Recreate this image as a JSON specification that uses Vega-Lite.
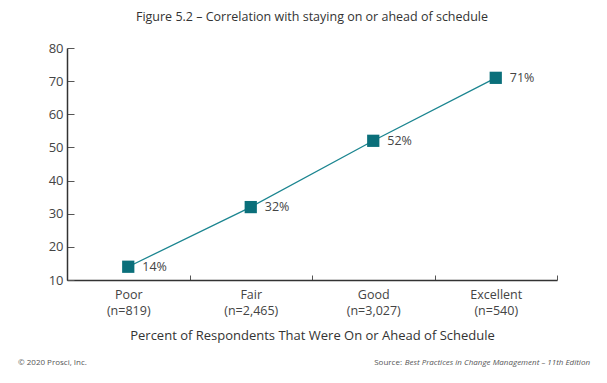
{
  "$schema": "https://vega.github.io/schema/vega-lite/v6.json",
  "width": 490,
  "height": 232,
  "autosize": {"type": "none"},
  "padding": {"left": 67, "top": 48, "right": 50, "bottom": 103},
  "background": "white",
  "config": {
    "view": {"stroke": null},
    "font": "Open Sans",
    "axis": {"grid": false, "domainColor": "#333", "tickColor": "#555", "labelColor": "#444", "titleColor": "#333", "labelFont": "Open Sans", "titleFont": "Open Sans"}
  },
  "title": {
    "text": "Figure 5.2 – Correlation with staying on or ahead of schedule",
    "fontSize": 12.5,
    "fontWeight": "normal",
    "color": "#333",
    "anchor": "middle",
    "offset": 19
  },
  "layer": [
    {
      "data": {
        "values": [
          {"rating": "Poor (n=819)", "pct": 14, "label": "14%"},
          {"rating": "Fair (n=2,465)", "pct": 32, "label": "32%"},
          {"rating": "Good (n=3,027)", "pct": 52, "label": "52%"},
          {"rating": "Excellent (n=540)", "pct": 71, "label": "71%"}
        ]
      },
      "encoding": {
        "x": {
          "field": "rating",
          "type": "ordinal",
          "sort": null,
          "scale": {"type": "band", "paddingInner": 0, "paddingOuter": 0},
          "axis": {
            "title": "Percent of Respondents That Were On or Ahead of Schedule",
            "titleFontSize": 13,
            "titleFontWeight": "normal",
            "titlePadding": 13,
            "labelExpr": "datum.value ? split(datum.value, ' ') : ''",
            "labelFontSize": 12.5,
            "labelAngle": 0,
            "labelPadding": 13,
            "labelLineHeight": 16,
            "tickBand": "extent",
            "tickSize": -5,
            "domainWidth": 1.5
          }
        },
        "y": {
          "field": "pct",
          "type": "quantitative",
          "scale": {"domain": [10, 80], "nice": false, "zero": false},
          "axis": {
            "title": null,
            "values": [10, 20, 30, 40, 50, 60, 70, 80],
            "labelFontSize": 13,
            "labelPadding": 11,
            "tickSize": -7,
            "domainWidth": 1.5
          }
        }
      },
      "layer": [
        {"mark": {"type": "line", "color": "#1b8590", "strokeWidth": 1.3}},
        {"mark": {"type": "square", "color": "#0a6f7a", "size": 150, "opacity": 1, "filled": true}},
        {"mark": {"type": "text", "align": "left", "dx": 14, "fontSize": 12.5, "color": "#444", "font": "Open Sans"}, "encoding": {"text": {"field": "label"}}}
      ]
    },
    {
      "data": {"values": [{"note": "© 2020 Prosci, Inc."}]},
      "mark": {"type": "text", "x": 0, "y": "height", "dx": -49, "dy": 83, "align": "left", "fontSize": 8, "color": "#555"},
      "encoding": {"text": {"field": "note"}}
    },
    {
      "data": {"values": [{"note": "Source:"}]},
      "mark": {"type": "text", "x": "width", "y": "height", "dx": -155, "dy": 83, "align": "right", "fontSize": 8, "color": "#555"},
      "encoding": {"text": {"field": "note"}}
    },
    {
      "data": {"values": [{"note": "Best Practices in Change Management – 11th Edition"}]},
      "mark": {"type": "text", "x": "width", "y": "height", "dx": 33, "dy": 83, "align": "right", "fontSize": 8, "fontStyle": "italic", "color": "#555"},
      "encoding": {"text": {"field": "note"}}
    }
  ]
}
